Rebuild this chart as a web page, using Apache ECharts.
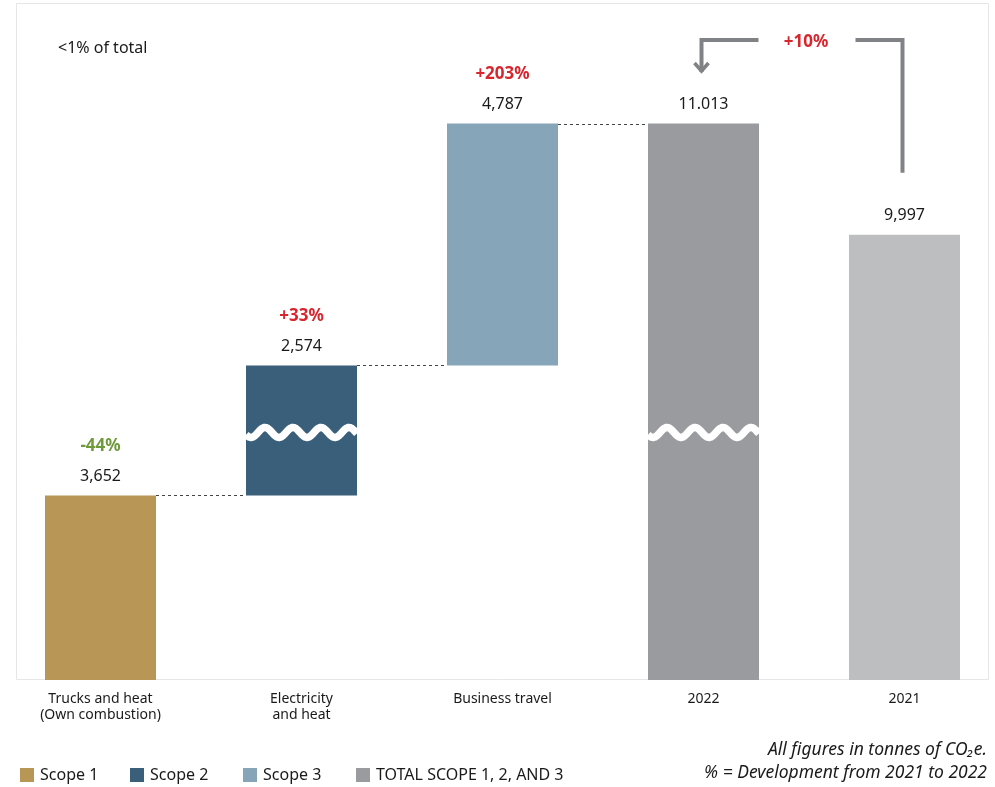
<!DOCTYPE html>
<html>
<head>
<meta charset="utf-8">
<script src="https://cdn.jsdelivr.net/npm/echarts@6/dist/echarts.min.js"></script>
<style>
  html, body { margin: 0; padding: 0; background: #ffffff; }
  #chart { width: 995px; height: 787px; }
</style>
</head>
<body>
<div id="chart"></div>
<script>
// Emission categories, left to right
const categories = ['Trucks and heat\n(Own combustion)', 'Electricity\nand heat', 'Business travel', '2022', '2021'];
// Scope contributions for 2022 (tonnes CO2e)
const scopeNames = ['Scope 1', 'Scope 2', 'Scope 3'];
const scopeValues = [3652, 2574, 4787];
const total2022 = 11013;
const total2021 = 9997;
// Printed value labels and development vs previous year
const valueText = ['3,652', '2,574', '4,787', '11.013', '9,997'];
const changeText = ['-44%', '+33%', '+203%'];
const totalChangeText = '+10%';
const totalName = 'TOTAL SCOPE 1, 2, AND 3';

const scopeColors = ['#b89655', '#3a5f7a', '#87a5b9'];
const colTotal = '#9a9b9f';
const col2021 = '#bdbec0';
const red = '#d7262e';
const green = '#6f9a3b';
const font = "'Noto Sans', 'Open Sans', sans-serif";
const BAR_W = 111;

// Invisible offsets for the floating waterfall bars
const bases = [];
let run = 0;
scopeValues.forEach(v => { bases.push(run); run += v; });

const chart = echarts.init(document.getElementById('chart'));

const labelRich = (pctColor) => ({
  p: { fontFamily: font, fontSize: 17, fontWeight: 'bold', color: pctColor, lineHeight: 40 },
  v: { fontFamily: font, fontSize: 16, color: '#1a1a1a', lineHeight: 20 }
});

const series = [];
// base (transparent)
series.push({
  name: 'base', type: 'bar', stack: 'w', barWidth: BAR_W, silent: true,
  itemStyle: { color: 'transparent' },
  data: [bases[0], bases[1], bases[2], '-', '-']
});
scopeNames.forEach((nm, i) => {
  const d = ['-', '-', '-', '-', '-'];
  d[i] = scopeValues[i];
  const isNeg = changeText[i].charAt(0) === '-';
  series.push({
    name: nm, type: 'bar', stack: 'w', barWidth: BAR_W,
    itemStyle: { color: scopeColors[i] },
    label: {
      show: true, position: 'top', distance: 9,
      formatter: () => '{p|' + changeText[i] + '}\n{v|' + valueText[i] + '}',
      rich: labelRich(isNeg ? green : red)
    },
    data: d
  });
});
series.push({
  name: totalName, type: 'bar', stack: 'w', barWidth: BAR_W,
  itemStyle: { color: colTotal },
  label: {
    show: true, position: 'top', distance: 9,
    formatter: () => '{v|' + valueText[3] + '}',
    rich: labelRich(red)
  },
  data: ['-', '-', '-', total2022, '-']
});
series.push({
  name: '2021 total', type: 'bar', yAxisIndex: 1, barWidth: BAR_W, barGap: '-100%',
  itemStyle: { color: col2021 },
  label: {
    show: true, position: 'top', distance: 9,
    formatter: () => '{v|' + valueText[4] + '}',
    rich: labelRich(red)
  },
  data: ['-', '-', '-', '-', total2021]
});

// Dotted connectors between consecutive waterfall steps
const connectors = [];
let acc = 0;
scopeValues.forEach((v, i) => { acc += v; connectors.push([i, acc]); });
series.push({
  type: 'custom', silent: true, z: 5,
  renderItem: (params, api) => {
    const i = api.value(0), v = api.value(1);
    const a = api.coord([i, v]);
    const b = api.coord([i + 1, v]);
    return {
      type: 'line',
      shape: { x1: a[0] + BAR_W / 2, y1: Math.round(a[1]) + 0.5, x2: b[0] - BAR_W / 2, y2: Math.round(a[1]) + 0.5 },
      style: { stroke: '#444', lineWidth: 1, lineDash: [3, 3] }
    };
  },
  data: connectors
});

// Wavy break marks across the Scope 2 and 2022 bars
const breakAt = bases[1] + scopeValues[1] / 2;
series.push({
  type: 'custom', silent: true, z: 6,
  renderItem: (params, api) => {
    const c = api.coord([api.value(0), api.value(1)]);
    const x0 = c[0] - BAR_W / 2;
    const pts = [];
    for (let k = 0; k <= BAR_W; k += 1) {
      pts.push([x0 + k, c[1] + 2 - 5 * Math.sin(2 * Math.PI * k / 28 - 2.69)]);
    }
    return {
      type: 'polyline', shape: { points: pts },
      style: { stroke: '#ffffff', lineWidth: 7.5, fill: null, lineCap: 'butt', lineJoin: 'round' }
    };
  },
  data: [[1, breakAt], [3, breakAt]]
});

// One legend block per entry so each sits at its own spot
const legendLefts = [20, 130, 243, 356];
const legendNames = [scopeNames[0], scopeNames[1], scopeNames[2], totalName];
const legends = legendNames.map((nm, i) => ({
  left: legendLefts[i], top: 767, padding: 0, itemWidth: 14, itemHeight: 14, icon: 'rect',
  textStyle: { fontFamily: font, fontSize: 16, color: '#1a1a1a', padding: [0, 0, 0, 1] },
  data: [nm]
}));

chart.setOption({
  animation: false,
  textStyle: { fontFamily: font },
  grid: { left: 0, width: 1005, top: 3, bottom: 107, outerBoundsMode: 'none', containLabel: false },
  xAxis: {
    type: 'category', data: categories,
    axisLine: { show: false }, axisTick: { show: false },
    axisLabel: { color: '#1a1a1a', fontSize: 14, lineHeight: 16, margin: 11, fontFamily: font, interval: 0 }
  },
  yAxis: [
    { type: 'value', min: 0, max: 13400, show: false },
    { type: 'value', min: 0, max: 15200, show: false }
  ],
  legend: legends,
  series: series
});

// Annotation layer: frame, note, year-on-year bracket, footnote
const x2022 = chart.convertToPixel({ xAxisIndex: 0 }, 3);
const x2021 = chart.convertToPixel({ xAxisIndex: 0 }, 4);
const y2021 = chart.convertToPixel({ yAxisIndex: 1 }, total2021);
const yBracket = 40;
const stroke = '#808285';
chart.setOption({
  graphic: [
    { type: 'rect', z: -1, silent: true, shape: { x: 16.5, y: 3.5, width: 972, height: 676 },
      style: { fill: null, stroke: '#e6e6e6', lineWidth: 1 } },
    { type: 'text', x: 58, y: 48,
      style: { text: '<1% of total', font: '16px ' + font, fill: '#1a1a1a', textVerticalAlign: 'middle' } },
    { type: 'polyline', shape: { points: [[x2021 - 2, y2021 - 62], [x2021 - 2, yBracket], [x2021 - 49, yBracket]] },
      style: { stroke: stroke, lineWidth: 4, fill: null } },
    { type: 'polyline', shape: { points: [[x2022 + 55, yBracket], [x2022 - 2, yBracket], [x2022 - 2, 72]] },
      style: { stroke: stroke, lineWidth: 4, fill: null } },
    { type: 'polyline', shape: { points: [[x2022 - 9, 63], [x2022 - 2, 71], [x2022 + 5, 63]] },
      style: { stroke: stroke, lineWidth: 3.5, fill: null } },
    { type: 'text', x: (x2022 + x2021) / 2 + 2, y: yBracket + 2,
      style: { text: totalChangeText, font: 'bold 17px ' + font, fill: red, textAlign: 'center', textVerticalAlign: 'middle' } },
    { type: 'text', x: 987, y: 750,
      style: { text: 'All figures in tonnes of CO₂e.', font: 'italic 17.5px ' + font, fill: '#1a1a1a', textAlign: 'right', textVerticalAlign: 'middle' } },
    { type: 'text', x: 987, y: 773,
      style: { text: '% = Development from 2021 to 2022', font: 'italic 17.5px ' + font, fill: '#1a1a1a', textAlign: 'right', textVerticalAlign: 'middle' } }
  ]
});
</script>
</body>
</html>
